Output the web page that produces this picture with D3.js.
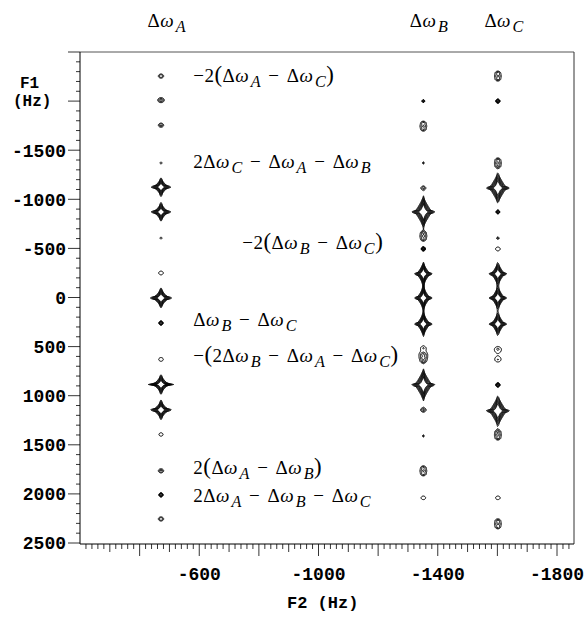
<!DOCTYPE html>
<html><head><meta charset="utf-8">
<script src="https://cdn.jsdelivr.net/npm/d3@7"></script>
<style>body{margin:0;background:#fff}</style>
</head><body>
<svg id="c" width="588" height="621"></svg>
<script>
// ---- data ----
const columnNames = ["A", "B", "C"];
const columnF2 = [-470, -1350, -1600];          // Δω_A, Δω_B, Δω_C (Hz)
const yTickValues = [-1500, -1000, -500, 0, 500, 1000, 1500, 2000, 2500];
const xTickValues = [-600, -1000, -1400, -1800];
// peaks: column index, F1 (Hz), height (units of lowest contour), kind
const peakColumn = [0,0,0,0,0,0,0,0,0,0,0,0,0,0,0,0,0,
                    1,1,1,1,1,1,1,1,1,1,1,1,1,1,1,1,1,
                    2,2,2,2,2,2,2,2,2,2,2,2,2,2,2,2,2];
const peakF1 = [-2260,-2015,-1760,-1375,-1130,-876,-610,-255,0,255,625,880,1140,1390,1760,2005,2250,
                -2005,-1750,-1375,-1120,-876,-630,-500,-245,0,265,510,610,885,1140,1405,1760,2035,
                -2260,-2005,-1375,-1120,-876,-610,-500,-245,0,265,520,630,885,1150,1395,2035,2300];
const peakHeight = [2.2,2.6,2.2,2.5,18,18,2.5,1.4,22,8,1.4,20,20,1.35,2.2,8,2.2,
                    4,1.8,2.5,2.0,24,1.8,8,20,20,20,1.4,1.8,24,2.2,2.5,1.8,1.4,
                    1.8,8,1.8,24,6,2.5,1.4,20,20,20,1.4,1.3,8,24,1.8,1.4,1.8];
const peakKind = ["bring","bring","bring","dot","starA","starA","dot","ring","starA","dot","ring","starA","starA","ring","bring","dot","bring",
                  "dot","stack","dot","bring","bigstar","stack","dot","midstar","midstar","midstar","ring","stack","bigstar","bring","dot","stack","ring",
                  "stack","dot","stack","bigstar","dot","dot","ring","midstar","midstar","midstar","ring","ring","dot","bigstar","stack","ring","stack"];
// annotation labels ("_X" = subscript)
const labelText = ["−2(Δω_A − Δω_C)", "2Δω_C − Δω_A − Δω_B", "−2(Δω_B − Δω_C)", "Δω_B − Δω_C",
                   "−(2Δω_B − Δω_A − Δω_C)", "2(Δω_A − Δω_B)", "2Δω_A − Δω_B − Δω_C"];
const labelF1 = [-2260, -1380, -560, 230, 600, 1740, 2020];
const labelF2 = [-580, -580, -744, -580, -580, -580, -580];

// ---- chart ----
const svg = d3.select("#c");
const x = d3.scaleLinear().domain([-200, -1857]).range([80, 574]);
const y = d3.scaleLinear().domain([-2500, 2500]).range([52, 543]);
const mono = "'Liberation Mono', 'Courier New', monospace";
const serif = "'Liberation Serif', 'Times New Roman', serif";

// contour field
const gx0 = 80, gy0 = 52, gw = 494, gh = 491;
const field = new Float64Array(gw * gh);
function addPeak(cx, cy, amp, s) {
  const R = 45;
  const j0 = Math.max(0, Math.floor(cy - gy0 - R)), j1 = Math.min(gh, Math.ceil(cy - gy0 + R));
  const i0 = Math.max(0, Math.floor(cx - gx0 - R)), i1 = Math.min(gw, Math.ceil(cx - gx0 + R));
  for (let j = j0; j < j1; j++) {
    const v = Math.abs((j + gy0 - cy) / s.wy);
    const vq = Math.pow(v, s.q);
    for (let i = i0; i < i1; i++) {
      const u = Math.abs((i + gx0 - cx) / s.wx);
      const r = Math.pow(Math.pow(u, s.q) + vq, 1 / s.q);
      field[j * gw + i] += amp * Math.exp(-r);
    }
  }
}
// star multiplet: body + horizontal and vertical ridges
function starShape(bx, by, hx, vy) {
  return [
    {dy: 0, f: 1,   wx: bx,  wy: by,  q: 1.0},
    {dy: 0, f: 0.5, wx: hx,  wy: 0.6, q: 1.0},
    {dy: 0, f: 0.5, wx: 0.6, wy: vy,  q: 1.0}
  ];
}
const kindShape = {
  starA:   starShape(2.3, 2.6, 5.6, 4.2),
  bigstar: starShape(2.6, 4.3, 5.4, 5.0),
  midstar: starShape(2.1, 3.2, 4.5, 4.4),
  ring:    [{dy: 0, f: 1, wx: 6.8, wy: 5.3, q: 2}],
  bring:   [{dy: 0, f: 1, wx: 3.4, wy: 2.6, q: 2}],
  dot:     [{dy: 0, f: 1, wx: 1.0, wy: 1.0, q: 2}],
  stack:   [{dy: -3.5, f: 1, wx: 3.0, wy: 1.9, q: 2}, {dy: 0, f: 1, wx: 3.0, wy: 1.9, q: 2}, {dy: 3.5, f: 1, wx: 3.0, wy: 1.9, q: 2}]
};
peakF1.forEach((f1, k) => {
  const cx = x(columnF2[peakColumn[k]]), cy = y(f1);
  kindShape[peakKind[k]].forEach(s => addPeak(cx, cy + s.dy, peakHeight[k] * s.f, s));
});
const thresholds = [1, 1.35, 1.8, 2.4, 3.2, 4.3, 5.8];
const contours = d3.contours().size([gw, gh]).thresholds(thresholds)(field);
svg.append("g").attr("transform", `translate(${gx0},${gy0})`)
  .selectAll("path").data(contours).join("path")
  .attr("d", d3.geoPath()).attr("fill", "none").attr("stroke", "#000").attr("stroke-width", 1);

// frame
svg.append("line").attr("x1", 80).attr("x2", 574).attr("y1", 52).attr("y2", 52).attr("stroke", "#555").attr("stroke-width", 1);
svg.append("line").attr("x1", 574).attr("x2", 574).attr("y1", 52).attr("y2", 544).attr("stroke", "#333").attr("stroke-width", 1);

// y axis
const yAxisG = svg.append("g").attr("transform", "translate(80,0)");
yAxisG.append("line").attr("x1", 0).attr("x2", 0).attr("y1", 52).attr("y2", 544).attr("stroke", "#000");
yAxisG.selectAll("line.mn").data(d3.range(-2500, 2501, 100)).join("line").attr("class", "mn")
  .attr("x1", d => d % 500 === 0 ? -12 : -4).attr("x2", 0).attr("y1", d => y(d)).attr("y2", d => y(d))
  .attr("stroke", "#000").attr("stroke-width", 0.8);
yAxisG.selectAll("text").data(yTickValues).join("text")
  .attr("x", -14).attr("y", d => y(d)).attr("dy", "0.35em").attr("text-anchor", "end")
  .attr("font-family", mono).attr("font-weight", "bold").attr("font-size", 18).text(d => d);
svg.append("text").attr("x", 20).attr("y", 88).attr("font-family", mono).attr("font-weight", "bold").attr("font-size", 16).text("F1");
svg.append("text").attr("x", 13).attr("y", 106).attr("font-family", mono).attr("font-weight", "bold").attr("font-size", 16).text("(Hz)");

// x axis
const xAxisG = svg.append("g").attr("transform", "translate(0,544)");
xAxisG.append("line").attr("x1", 80).attr("x2", 574).attr("y1", 0).attr("y2", 0).attr("stroke", "#000");
xAxisG.selectAll("line.mn").data(d3.range(-220, -1857, -20)).join("line").attr("class", "mn")
  .attr("x1", d => x(d)).attr("x2", d => x(d)).attr("y1", 0)
  .attr("y2", d => d % 200 === 0 ? 12 : (d % 100 === 0 ? 8 : 5))
  .attr("stroke", "#000").attr("stroke-width", 0.8);
xAxisG.selectAll("text").data(xTickValues).join("text")
  .attr("x", d => x(d)).attr("y", 36).attr("text-anchor", "middle")
  .attr("font-family", mono).attr("font-weight", "bold").attr("font-size", 18).text(d => d);
svg.append("text").attr("x", 287).attr("y", 608).attr("font-family", mono).attr("font-weight", "bold").attr("font-size", 17).text("F2 (Hz)");

// math text helper
function mathText(sel, str, size) {
  let i = 0, pendingDy = 0;
  while (i < str.length) {
    const ch = str[i];
    if (ch === "_") {
      sel.append("tspan").attr("font-style", "italic").attr("font-size", size * 0.85)
        .attr("dy", 5).attr("dx", 1.5).text(str[i + 1]);
      pendingDy = -5; i += 2; continue;
    }
    const t = sel.append("tspan").text(ch);
    if (ch === " ") t.attr("dx", 2);
    if (pendingDy) { t.attr("dy", pendingDy); pendingDy = 0; }
    if (ch === "ω") t.attr("font-style", "italic");
    if (ch === "(" || ch === ")") t.attr("font-size", size * 1.2);
    i++;
  }
}
labelText.forEach((s, k) => {
  const t = svg.append("text").attr("x", x(labelF2[k])).attr("y", y(labelF1[k]) + 6)
    .attr("font-family", serif).attr("font-size", 19).attr("letter-spacing", 0.5).attr("fill", "#000");
  mathText(t, s, 19);
});
columnNames.forEach((n, k) => {
  const t = svg.append("text").attr("x", x(columnF2[k]) - 13).attr("y", 27)
    .attr("font-family", serif).attr("font-size", 19).attr("letter-spacing", 0.5);
  mathText(t, "Δω_" + n, 19);
});
</script>
</body></html>
